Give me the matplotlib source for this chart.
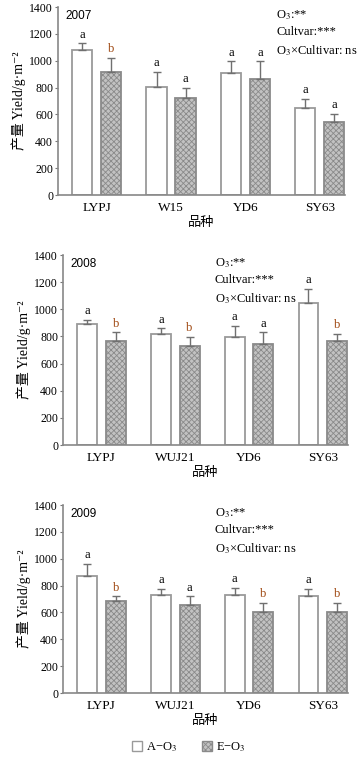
import numpy as np
from matplotlib import pyplot as plt
from matplotlib.patches import Patch

plt.rcParams['font.family'] = ['Liberation Serif', 'Noto Sans CJK SC', 'DejaVu Sans']
plt.rcParams['mathtext.fontset'] = 'stix'
plt.rcParams['hatch.color'] = '#999999'
plt.rcParams['hatch.linewidth'] = 0.6

years = ['2007', '2008', '2009']
cultivars = [
    ['LYPJ', 'W15', 'YD6', 'SY63'],
    ['LYPJ', 'WUJ21', 'YD6', 'SY63'],
    ['LYPJ', 'WUJ21', 'YD6', 'SY63'],
]
# ambient O3 (A-O3) means and upper error
a_mean = [
    [1080, 805, 905, 650],
    [890, 820, 795, 1050],
    [870, 730, 730, 720],
]
a_err = [
    [50, 110, 90, 65],
    [30, 40, 85, 100],
    [90, 45, 55, 55],
]
# elevated O3 (E-O3)
e_mean = [
    [915, 725, 865, 540],
    [770, 730, 745, 770],
    [685, 655, 605, 605],
]
e_err = [
    [105, 75, 130, 65],
    [60, 65, 85, 50],
    [35, 65, 65, 65],
]
a_letters = [['a', 'a', 'a', 'a'], ['a', 'a', 'a', 'a'], ['a', 'a', 'a', 'a']]
e_letters = [['b', 'a', 'a', 'a'], ['b', 'b', 'a', 'b'], ['b', 'a', 'b', 'b']]
stats = ['O$_3$:**', 'Cultvar:***', 'O$_3$×Cultivar: ns']

W, H = 363, 760
fig = plt.figure(figsize=(W / 100, H / 100), dpi=100)

# axes boxes in pixels: left, top, right, bottom
boxes = [(58, 7, 345, 195), (63, 255, 348, 445), (63, 505, 348, 693)]
stat_x = [0.76, 0.533, 0.533]

edge = '#9a9a9a'
brown = '#a04a14'
x = np.arange(4)
off = 0.195
bw = 0.27

for i, (l, t, r, b) in enumerate(boxes):
    ax = fig.add_axes([l / W, 1 - b / H, (r - l) / W, (b - t) / H])
    am, ae = np.array(a_mean[i]), np.array(a_err[i])
    em, ee = np.array(e_mean[i]), np.array(e_err[i])
    ax.bar(x - off, am, bw, color='white', edgecolor=edge, linewidth=1.3,
           yerr=[np.zeros(4), ae], capsize=3,
           error_kw=dict(ecolor='#707070', elinewidth=1, capthick=1))
    ax.bar(x + off, em, bw, color='#c2c2c2', edgecolor='#8a8a8a',
           linewidth=1.3, hatch='xxxxxx',
           yerr=[np.zeros(4), ee], capsize=3,
           error_kw=dict(ecolor='#707070', elinewidth=1, capthick=1))
    for j in range(4):
        ax.text(x[j] - off, am[j] + ae[j] + 20, a_letters[i][j],
                ha='center', va='bottom', fontsize=9,
                color=brown if a_letters[i][j] == 'b' else 'black')
        ax.text(x[j] + off, em[j] + ee[j] + 20, e_letters[i][j],
                ha='center', va='bottom', fontsize=9,
                color=brown if e_letters[i][j] == 'b' else 'black')
    ax.set_xlim(-0.52, 3.34)
    ax.set_ylim(0, 1400)
    ax.set_yticks(range(0, 1401, 200))
    ax.set_xticks(x)
    ax.set_xticklabels(cultivars[i], fontsize=9.5)
    ax.tick_params(axis='y', labelsize=8.5, direction='out', length=2.5,
                   color='#777777', pad=1)
    ax.tick_params(axis='x', length=0, pad=5)
    for s in ['top', 'right']:
        ax.spines[s].set_visible(False)
    for s in ['left', 'bottom']:
        ax.spines[s].set_color('#888888')
        ax.spines[s].set_linewidth(1.2)
    ax.set_ylabel('产量 Yield/g·m⁻²', fontsize=10, labelpad=2)
    ax.set_xlabel('品种', fontsize=9.5, labelpad=2)
    ax.text(0.025, 0.985, years[i], transform=ax.transAxes, fontsize=8.5,
            va='top', ha='left', family=['Liberation Sans'])
    ax.text(stat_x[i], 0.995, '\n'.join(stats),
            transform=ax.transAxes, fontsize=9, va='top', ha='left',
            linespacing=1.45)

handles = [Patch(facecolor='white', edgecolor=edge, label='A−O$_3$'),
           Patch(facecolor='#c2c2c2', edgecolor='#8a8a8a', hatch='xxxxxx',
                 label='E−O$_3$')]
fig.legend(handles=handles, loc='center', bbox_to_anchor=(0.52, 1 - 747 / H),
           ncol=2, frameon=False, fontsize=9, handlelength=0.8,
           handleheight=0.8, handletextpad=0.3, columnspacing=2)

fig.savefig('out.png', dpi=100)
